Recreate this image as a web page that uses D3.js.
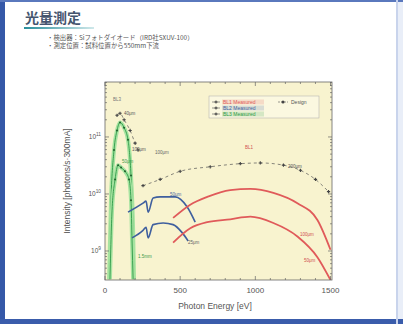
<!DOCTYPE html>
<html>
<head>
<meta charset="utf-8">
<script src="https://cdn.jsdelivr.net/npm/d3@7"></script>
<style>
  body { margin: 0; background: #fff; }
  svg { display: block; }
</style>
</head>
<body>
<div id="chart"></div>
<script>
// BL1 (two slit settings)
const bl1Energy = [453, 567, 680, 833, 967, 1120, 1280, 1413, 1500];
const bl1Wide = [3.8e9, 6.5e9, 8.9e9, 1.17e10, 1.23e10, 1.05e10, 6.9e9, 3.5e9, 1.05e9];
const bl1Narrow = [1.4e9, 2.5e9, 3.2e9, 3.6e9, 4.0e9, 3.1e9, 1.8e9, 7.8e8, 3.1e8];

// BL2
const bl2EnergyA = [153, 253, 273, 287, 320, 367, 467, 547, 600];
const bl2Wide = [4.8e9, 6.9e9, 7.5e9, 4.8e9, 8.5e9, 8.9e9, 8.9e9, 5.9e9, 3.2e9];
const bl2EnergyB = [180, 253, 273, 287, 320, 387, 453, 513, 553];
const bl2Narrow = [1.7e9, 2.3e9, 2.6e9, 1.7e9, 2.9e9, 3.1e9, 2.9e9, 2.1e9, 1.5e9];

// BL3
const bl3EnergyA = [27, 40, 60, 80, 100, 127, 153, 173, 187, 193];
const bl3Wide = [3.2e8, 7.9e9, 5.9e10, 1.3e11, 1.8e11, 1.45e11, 8.9e10, 2.1e10, 2.3e9, 3.2e8];
const bl3EnergyB = [33, 47, 67, 87, 107, 133, 160, 173, 180, 187];
const bl3Narrow = [3.2e8, 5.2e9, 1.8e10, 3.2e10, 2.9e10, 2.5e10, 1.8e10, 7.8e9, 1.5e9, 3.2e8];

// design values
const designLowEnergy = [80, 100, 127, 167, 200, 220];
const designLow = [2.4e11, 2.6e11, 2.0e11, 1.3e11, 7.8e10, 5.9e10];
const designHighEnergy = [253, 367, 500, 700, 900, 1033, 1187, 1300, 1400, 1487];
const designHigh = [1.4e10, 1.8e10, 2.5e10, 3.0e10, 3.4e10, 3.5e10, 3.2e10, 2.6e10, 1.8e10, 1.1e10];

const xTicks = [0, 500, 1000, 1500];
const yTicks = [1e9, 1e10, 1e11];
const legendLabels = ['BL1 Measured', 'BL2 Measured', 'BL3 Measured'];

const W = 403, H = 324;
const plot = {left: 105, right: 332, top: 82, bottom: 280};

const svg = d3.select('#chart').append('svg')
  .attr('width', W).attr('height', H);

// frame
svg.append('rect').attr('x', 0).attr('y', 0).attr('width', W).attr('height', H).attr('fill', '#e9eef8');
svg.append('rect').attr('x', 5).attr('y', 2).attr('width', 391).attr('height', 317)
  .attr('fill', '#fff');
svg.append('rect').attr('x', 0).attr('y', 0).attr('width', 5).attr('height', H).attr('fill', '#3558a8');
svg.append('rect').attr('x', 0).attr('y', 0).attr('width', W).attr('height', 2).attr('fill', '#5a78bd');
svg.append('rect').attr('x', 0).attr('y', 319).attr('width', W).attr('height', 5).attr('fill', '#3a5cab');
svg.append('rect').attr('x', 396).attr('y', 0).attr('width', 2).attr('height', H).attr('fill', '#c9d4ec');

// title
svg.append('text').attr('x', 25).attr('y', 23)
  .attr('font-family', 'Noto Sans CJK JP').attr('font-size', 14).attr('font-weight', 'bold')
  .attr('fill', '#45556e').text('光量測定');
const grad = svg.append('defs').append('linearGradient').attr('id', 'ul');
grad.append('stop').attr('offset', '0%').attr('stop-color', '#2a8f9c');
grad.append('stop').attr('offset', '100%').attr('stop-color', '#cfe8ea');
svg.append('rect').attr('x', 24).attr('y', 27).attr('width', 70).attr('height', 2).attr('fill', 'url(#ul)');

svg.append('text').attr('x', 47).attr('y', 40)
  .attr('font-family', 'Noto Sans CJK JP').attr('font-size', 6.4).attr('fill', '#555')
  .text('・検出器：Siフォトダイオード（IRD社SXUV-100）');
svg.append('text').attr('x', 47).attr('y', 47.5)
  .attr('font-family', 'Noto Sans CJK JP').attr('font-size', 6.4).attr('fill', '#555')
  .text('・測定位置：試料位置から550mm下流');

// scales
const x = d3.scaleLinear().domain([0, 1510]).range([plot.left, plot.right]);
const y = d3.scaleLog().domain([3.1e8, 9.2e11]).range([plot.bottom, plot.top]);

svg.append('rect').attr('x', plot.left).attr('y', plot.top)
  .attr('width', plot.right - plot.left).attr('height', plot.bottom - plot.top)
  .attr('fill', '#f8f3cf');

svg.append('clipPath').attr('id', 'clip').append('rect')
  .attr('x', plot.left).attr('y', plot.top)
  .attr('width', plot.right - plot.left).attr('height', plot.bottom - plot.top);

const g = svg.append('g').attr('clip-path', 'url(#clip)');

const line = d3.line().curve(d3.curveMonotoneX).x(d => x(d[0])).y(d => y(d[1]));
const zip = (a, b) => a.map((v, i) => [v, b[i]]);

// green band (BL3)
[[bl3EnergyA, bl3Wide], [bl3EnergyB, bl3Narrow]].forEach(([e, v]) => {
  g.append('path').datum(zip(e, v)).attr('d', line)
    .attr('fill', 'none').attr('stroke', '#a6e3a0').attr('stroke-width', 4);
  g.append('path').datum(zip(e, v)).attr('d', line)
    .attr('fill', 'none').attr('stroke', '#2f9a48').attr('stroke-width', 0.9);
  g.selectAll(null).data(zip(e, v).slice(2, -2)).enter().append('circle')
    .attr('cx', d => x(d[0])).attr('cy', d => y(d[1])).attr('r', 1)
    .attr('fill', '#1f5e2c');
});

// BL2
[[bl2EnergyA, bl2Wide], [bl2EnergyB, bl2Narrow]].forEach(([e, v]) => {
  g.append('path').datum(zip(e, v)).attr('d', line)
    .attr('fill', 'none').attr('stroke', '#3f5f9e').attr('stroke-width', 1.6);
});

// BL1
[[bl1Energy, bl1Wide], [bl1Energy, bl1Narrow]].forEach(([e, v]) => {
  g.append('path').datum(zip(e, v)).attr('d', line)
    .attr('fill', 'none').attr('stroke', '#e05a5a').attr('stroke-width', 1.8);
});

// design
[[designLowEnergy, designLow], [designHighEnergy, designHigh]].forEach(([e, v]) => {
  g.append('path').datum(zip(e, v)).attr('d', line)
    .attr('fill', 'none').attr('stroke', '#555').attr('stroke-width', 0.7)
    .attr('stroke-dasharray', '3,3');
  g.selectAll(null).data(zip(e, v)).enter().append('path')
    .attr('d', d3.symbol(d3.symbolCross, 6))
    .attr('transform', d => `translate(${x(d[0])},${y(d[1])})`)
    .attr('fill', '#444');
});

// small annotations
const notes = [
  [113, 101, 'BL3', '#777'], [155, 154, '100μm', '#666'], [245, 149, 'BL1', '#d05050'],
  [124, 115, '40μm', '#555'], [132, 151, '100μm', '#555'], [122, 163, '50μm', '#3a9a4a'],
  [170, 196, '50μm', '#4a6aa0'], [188, 244, '25μm', '#666'], [138, 258, '1.5mm', '#3a9a4a'],
  [288, 168, '200μm', '#555'], [300, 236, '100μm', '#d05050'], [304, 262, '50μm', '#d05050']
];
svg.selectAll('.note').data(notes).enter().append('text')
  .attr('x', d => d[0]).attr('y', d => d[1])
  .attr('font-family', 'Liberation Sans').attr('font-size', 4.5)
  .attr('fill', d => d[3]).text(d => d[2]);

// axes
svg.append('rect').attr('x', plot.left).attr('y', plot.top)
  .attr('width', plot.right - plot.left).attr('height', plot.bottom - plot.top)
  .attr('fill', 'none').attr('stroke', '#666').attr('stroke-width', 0.8);

const minorX = d3.range(0, 1501, 100);
const minorY = [];
for (let d = 8; d <= 11; d++) for (let k = 1; k < 10; k++) {
  const v = k * Math.pow(10, d);
  if (v >= 3.1e8 && v <= 9.2e11) minorY.push(v);
}
const ax = svg.append('g').attr('stroke', '#666').attr('stroke-width', 0.7);
minorX.forEach(t => {
  const len = t % 500 === 0 ? 4 : 2;
  ax.append('line').attr('x1', x(t)).attr('x2', x(t)).attr('y1', plot.bottom).attr('y2', plot.bottom - len);
  ax.append('line').attr('x1', x(t)).attr('x2', x(t)).attr('y1', plot.top).attr('y2', plot.top + len);
});
minorY.forEach(t => {
  const len = yTicks.includes(t) ? 4 : 2;
  ax.append('line').attr('y1', y(t)).attr('y2', y(t)).attr('x1', plot.left).attr('x2', plot.left + len);
  ax.append('line').attr('y1', y(t)).attr('y2', y(t)).attr('x1', plot.right).attr('x2', plot.right - len);
});

svg.selectAll('.xl').data(xTicks).enter().append('text')
  .attr('x', d => x(d)).attr('y', plot.bottom + 13)
  .attr('text-anchor', 'middle').attr('font-family', 'Liberation Sans').attr('font-size', 8)
  .attr('fill', '#555').text(d => d);

const yl = svg.selectAll('.yl').data(yTicks).enter().append('text')
  .attr('x', plot.left - 4).attr('y', d => y(d) + 2)
  .attr('text-anchor', 'end').attr('font-family', 'Liberation Sans').attr('font-size', 6.5)
  .attr('fill', '#555');
yl.append('tspan').text('10');
yl.append('tspan').attr('dy', -3).attr('font-size', 4.8).text(d => Math.round(Math.log10(d)));

svg.append('text').attr('x', 215).attr('y', 309)
  .attr('text-anchor', 'middle').attr('font-family', 'Liberation Sans').attr('font-size', 8.5)
  .attr('fill', '#555').text('Photon Energy [eV]');
svg.append('text').attr('transform', 'translate(70,181) rotate(-90)')
  .attr('text-anchor', 'middle').attr('font-family', 'Liberation Sans').attr('font-size', 8.5)
  .attr('fill', '#555').text('Intensity [photons/s·300mA]');

// legend
const lg = svg.append('g');
lg.append('rect').attr('x', 209).attr('y', 96).attr('width', 110).attr('height', 22)
  .attr('fill', '#fbf8e0').attr('stroke', '#aaa').attr('stroke-width', 0.5);
const legendColors = ['#e05a5a', '#3f5f9e', '#2f9a48'];
legendLabels.forEach((lab, i) => {
  const yy = 102 + i * 6;
  lg.append('line').attr('x1', 212).attr('x2', 220).attr('y1', yy).attr('y2', yy)
    .attr('stroke', '#555').attr('stroke-width', 0.6);
  lg.append('path').attr('d', d3.symbol(d3.symbolCross, 5)).attr('transform', `translate(216,${yy})`).attr('fill', '#444');
  lg.append('rect').attr('x', 222).attr('y', yy - 2.5).attr('width', 42).attr('height', 5)
    .attr('fill', legendColors[i]).attr('opacity', 0.18);
  lg.append('text').attr('x', 223).attr('y', yy + 1.8)
    .attr('font-family', 'Liberation Sans').attr('font-size', 5)
    .attr('fill', legendColors[i]).text(lab);
});
lg.append('line').attr('x1', 278).attr('x2', 288).attr('y1', 102).attr('y2', 102)
  .attr('stroke', '#555').attr('stroke-width', 0.6).attr('stroke-dasharray', '2,1');
lg.append('circle').attr('cx', 283).attr('cy', 102).attr('r', 1.5).attr('fill', '#444');
lg.append('text').attr('x', 291).attr('y', 103.8)
  .attr('font-family', 'Liberation Sans').attr('font-size', 5).attr('fill', '#555').text('Design');
</script>
</body>
</html>
